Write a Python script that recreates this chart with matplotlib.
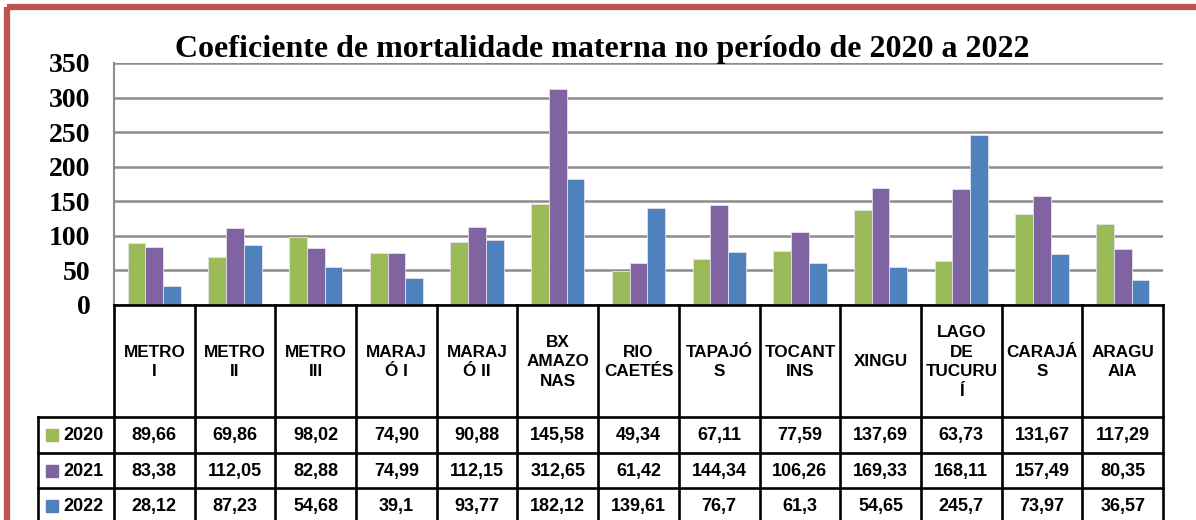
import matplotlib
matplotlib.use("Agg")
import matplotlib.pyplot as plt
from matplotlib.patches import Rectangle
import numpy as np

categories = ["METRO\nI", "METRO\nII", "METRO\nIII", "MARAJ\nÓ I", "MARAJ\nÓ II",
              "BX\nAMAZO\nNAS", "RIO\nCAETÉS", "TAPAJÓ\nS", "TOCANT\nINS", "XINGU",
              "LAGO\nDE\nTUCURU\nÍ", "CARAJÁ\nS", "ARAGU\nAIA"]
series_names = ["2020", "2021", "2022"]
v2020 = [89.66, 69.86, 98.02, 74.90, 90.88, 145.58, 49.34, 67.11, 77.59, 137.69, 63.73, 131.67, 117.29]
v2021 = [83.38, 112.05, 82.88, 74.99, 112.15, 312.65, 61.42, 144.34, 106.26, 169.33, 168.11, 157.49, 80.35]
v2022 = [28.12, 87.23, 54.68, 39.1, 93.77, 182.12, 139.61, 76.7, 61.3, 54.65, 245.7, 73.97, 36.57]
labels2020 = ["89,66", "69,86", "98,02", "74,90", "90,88", "145,58", "49,34", "67,11", "77,59", "137,69", "63,73", "131,67", "117,29"]
labels2021 = ["83,38", "112,05", "82,88", "74,99", "112,15", "312,65", "61,42", "144,34", "106,26", "169,33", "168,11", "157,49", "80,35"]
labels2022 = ["28,12", "87,23", "54,68", "39,1", "93,77", "182,12", "139,61", "76,7", "61,3", "54,65", "245,7", "73,97", "36,57"]
yticks = [0, 50, 100, 150, 200, 250, 300, 350]
title = "Coeficiente de mortalidade materna no período de 2020 a 2022"

colors = ["#9BBB59", "#8064A2", "#4F81BD"]
values = [v2020, v2021, v2022]
row_labels = [labels2020, labels2021, labels2022]

W, H = 1196, 520
fig = plt.figure(figsize=(W / 100, H / 100), dpi=100)

def fr(x0, y0, x1, y1):
    return [x0 / W, 1 - y1 / H, (x1 - x0) / W, (y1 - y0) / H]

# background/frame axes in pixel coordinates
bg = fig.add_axes([0, 0, 1, 1])
bg.set_xlim(0, W)
bg.set_ylim(H, 0)
bg.axis("off")
bg.add_patch(Rectangle((6.5, 6.5), W + 20, H + 20, fill=False, edgecolor="#C0504D", linewidth=4.5, zorder=0))

# bar axes
PL, PR, PT, PB = 114, 1163, 63, 305
ax = fig.add_axes(fr(PL, PT, PR, PB))
n = len(categories)
x = np.arange(n)
bw = 0.22
for k, (vals, c) in enumerate(zip(values, colors)):
    ax.bar(x + (k - 1) * bw, vals, width=bw, color=c, edgecolor="#E6E0EC", linewidth=0.6, zorder=3)
ax.set_xlim(-0.5, n - 0.5)
ax.set_ylim(0, 350)
ax.set_yticks(yticks)
ax.set_yticklabels([str(t) for t in yticks], fontfamily="Liberation Serif", fontweight="bold", fontsize=20)
ax.tick_params(axis="y", length=0, pad=17)
ax.set_xticks([])
ax.grid(axis="y", color="#8C8C8C", linewidth=1.8, zorder=1)
for s in ["top", "right", "bottom"]:
    ax.spines[s].set_visible(False)
ax.spines["left"].set_color("#8C8C8C")
ax.spines["left"].set_linewidth(1.5)

fig.text(602.5 / W, 1 - 57 / H, title, ha="center", va="baseline",
         fontfamily="Liberation Serif", fontweight="bold", fontsize=23)

# table axes: x in category units, y in pixels
TL = 38
colw = (PR - PL) / n
lab_units = (PL - TL) / colw
tb = fig.add_axes(fr(TL, PB, PR, H))
tb.set_xlim(-0.5 - lab_units, n - 0.5)
tb.set_ylim(H, PB)
tb.axis("off")

lw = 1.9
row_y = [PB, 417, 452.5, 488, 523.5]
font = dict(family="Liberation Sans", weight="bold", size=13, color="black")
cat_font = dict(family="Liberation Sans", weight="bold", size=12.3, color="black")
# horizontal lines
tb.plot([-0.5, n - 0.5], [row_y[0], row_y[0]], color="black", lw=lw, clip_on=False, solid_capstyle="projecting")
for yy in row_y[1:]:
    tb.plot([-0.5 - lab_units, n - 0.5], [yy, yy], color="black", lw=lw, clip_on=False, solid_capstyle="projecting")
# vertical lines
for i in range(n + 1):
    tb.plot([i - 0.5, i - 0.5], [row_y[0], row_y[-1]], color="black", lw=lw, clip_on=False)
tb.plot([-0.5 - lab_units, -0.5 - lab_units], [row_y[1], row_y[-1]], color="black", lw=lw, clip_on=False)

# category labels
for i, cat in enumerate(categories):
    tb.text(i, (row_y[0] + row_y[1]) / 2 + 1, cat, ha="center", va="center", linespacing=1.38, **cat_font)

# data rows
for r in range(3):
    yc = (row_y[r + 1] + row_y[r + 2]) / 2 + 1
    for i in range(n):
        tb.text(i, yc, row_labels[r][i], ha="center", va="center", **font)
    # legend key
    sx = -0.5 - lab_units + 8 / colw
    tb.add_patch(Rectangle((sx, yc - 6.5), 12 / colw, 12, color=colors[r], clip_on=False))
    tb.text(sx + 17 / colw, yc, series_names[r], ha="left", va="center", **font)

fig.savefig("out.png", dpi=100)
